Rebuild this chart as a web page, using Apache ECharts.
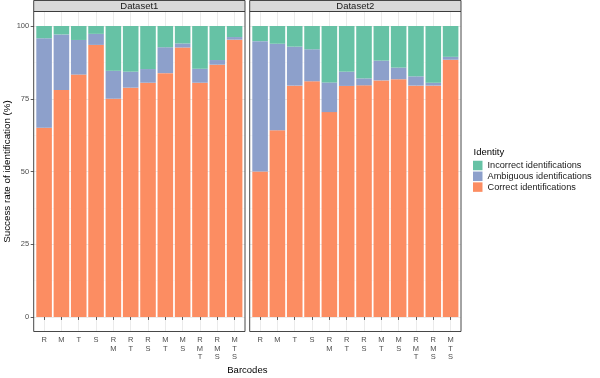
<!DOCTYPE html>
<html><head><meta charset="utf-8">
<script src="https://cdn.jsdelivr.net/npm/echarts@6/dist/echarts.min.js"></script>
<style>html,body{margin:0;padding:0;background:#fff}#c{width:600px;height:378px}</style>
</head><body><div id="c"></div>
<script>
const categories = ['R','M','T','S','RM','RT','RS','MT','MS','RMT','RMS','MTS'];
const panels = ['Dataset1','Dataset2'];
const seriesNames = ['Correct identifications','Ambiguous identifications','Incorrect identifications'];
const legendOrder = ['Incorrect identifications','Ambiguous identifications','Correct identifications'];
const ds1Correct   = [65, 78, 83.3, 93.5, 75, 78.8, 80.5, 83.8, 92.6, 80.5, 86.7, 95.3];
const ds1Ambiguous = [30.8, 19.1, 11.9, 3.8, 9.6, 5.5, 4.7, 8.9, 1.4, 4.8, 1.6, 0.9];
const ds1Incorrect = [4.2, 2.9, 4.8, 2.7, 15.4, 15.7, 14.8, 7.3, 6.0, 14.7, 11.7, 3.8];
const ds2Correct   = [50, 64.2, 79.5, 81, 70.4, 79.4, 79.6, 81.3, 81.7, 79.5, 79.5, 88.4];
const ds2Ambiguous = [44.8, 29.7, 13.4, 11, 10.2, 4.9, 2.4, 6.8, 4, 3.2, 1, 1];
const ds2Incorrect = [5.2, 6.1, 7.1, 8, 19.4, 15.7, 18, 11.9, 14.3, 17.3, 19.5, 10.6];
const yTicks = [0, 25, 50, 75, 100];
const yMinor = [12.5, 37.5, 62.5, 87.5];

const colors = {'Correct identifications':'#FC8D62','Ambiguous identifications':'#8DA0CB','Incorrect identifications':'#66C2A5'};
const FONT = '"Liberation Sans", Arial, sans-serif';

const panelX = [33.7, 249.7], panelW = 211.3, panelTop = 11.5, panelH = 320;
const unit = panelW / 12.2;
const dataTop = 26.0, dataH = 290.9;
const catPos = categories.map((c, k) => k + 1);

const grids = [], xAxes = [], yAxes = [], series = [], graphics = [];
// background grids: panel frame, ticks, labels, gridlines
panelX.forEach((px, i) => {
  grids.push({left: px, top: panelTop, width: panelW, height: panelH, containLabel: false});
  xAxes.push({type:'value', gridIndex:i, min:0.4, max:12.6,
    axisLine:{show:false}, splitLine:{show:false},
    axisTick:{show:true, customValues: catPos, length:3, lineStyle:{color:'#333333', width:0.8}},
    axisLabel:{show:true, customValues: catPos, margin:4.5, color:'#4D4D4D', fontSize:7.5, fontFamily:FONT,
      lineHeight:8.3, verticalAlign:'top',
      formatter: v => { const c = categories[Math.round(v) - 1]; return c ? c.split('').join('\n') : ''; }}});
  yAxes.push({type:'value', gridIndex:i, min:-5, max:105,
    axisLine:{show:false}, splitLine:{show:false},
    axisTick:{show: i === 0, customValues: yTicks, length:3, lineStyle:{color:'#333333', width:0.8}},
    axisLabel:{show: i === 0, customValues: yTicks, margin:4.5, color:'#4D4D4D', fontSize:7.5, fontFamily:FONT},
    name: i === 0 ? 'Success rate of identification (%)' : '',
    nameLocation:'middle', nameGap:18.5, nameRotate:90,
    nameTextStyle:{color:'#000', fontSize:9.8, fontFamily:FONT}});
  const ml = [];
  catPos.forEach(p => ml.push({xAxis: p, lineStyle:{width:1, color:'#EBEBEB'}}));
  yMinor.forEach(v => ml.push({yAxis: v, lineStyle:{width:0.5, color:'#F2F2F2'}}));
  yTicks.forEach(v => ml.push({yAxis: v, lineStyle:{width:1, color:'#EBEBEB'}}));
  series.push({type:'scatter', xAxisIndex:i, yAxisIndex:i, data:[], silent:true, z:0,
    markLine:{silent:true, z:0, symbol:['none','none'], label:{show:false}, animation:false,
      lineStyle:{type:'solid'}, data: ml}});
});
// data grids
const dataSets = [[ds1Correct, ds1Ambiguous, ds1Incorrect],[ds2Correct, ds2Ambiguous, ds2Incorrect]];
panelX.forEach((px, i) => {
  const gi = i + 2;
  grids.push({left: px + unit * 0.1, top: dataTop, width: unit * 12, height: dataH, containLabel:false});
  xAxes.push({type:'category', gridIndex:gi, data:categories, boundaryGap:true, show:false});
  yAxes.push({type:'value', gridIndex:gi, min:0, max:100, show:false});
  dataSets[i].forEach((arr, s) => {
    series.push({type:'bar', name: seriesNames[s], xAxisIndex:gi, yAxisIndex:gi, stack:'p'+i,
      data: arr, barCategoryGap:'10%', itemStyle:{color: colors[seriesNames[s]]}, z:5, animation:false});
  });
  graphics.push({type:'rect', z:100, shape:{x:px, y:panelTop, width:panelW, height:panelH},
    style:{fill:'none', stroke:'#333333', lineWidth:0.9}});
  graphics.push({type:'rect', z:100, shape:{x:px, y:0.5, width:panelW, height:panelTop - 0.5},
    style:{fill:'#D9D9D9', stroke:'#333333', lineWidth:0.9}});
  graphics.push({type:'text', z:101, x: px + panelW / 2, y: 6.3,
    style:{text: panels[i], fill:'#1A1A1A', font:'9.5px ' + FONT, align:'center', verticalAlign:'middle'}});
});
graphics.push({type:'text', z:101, x: (panelX[0] + panelX[1] + panelW) / 2, y: 370,
  style:{text:'Barcodes', fill:'#000', font:'9.5px ' + FONT, align:'center', verticalAlign:'middle'}});
graphics.push({type:'text', z:101, x: 473.5, y: 152.5,
  style:{text:'Identity', fill:'#000', font:'9.5px ' + FONT, align:'left', verticalAlign:'middle'}});

const chart = echarts.init(document.getElementById('c'), null, {renderer:'canvas'});
chart.setOption({
  animation:false,
  grid: grids, xAxis: xAxes, yAxis: yAxes, series: series, graphic: graphics,
  legend:{data: legendOrder, orient:'vertical', left:473, top:160.5, padding:0, itemWidth:9.5, itemHeight:9.5, itemGap:0.8,
    icon:'rect', selectedMode:false,
    textStyle:{color:'#1A1A1A', fontSize:9.2, fontFamily:FONT, lineHeight:10, padding:[0,0,0,0]}}
});
</script></body></html>
